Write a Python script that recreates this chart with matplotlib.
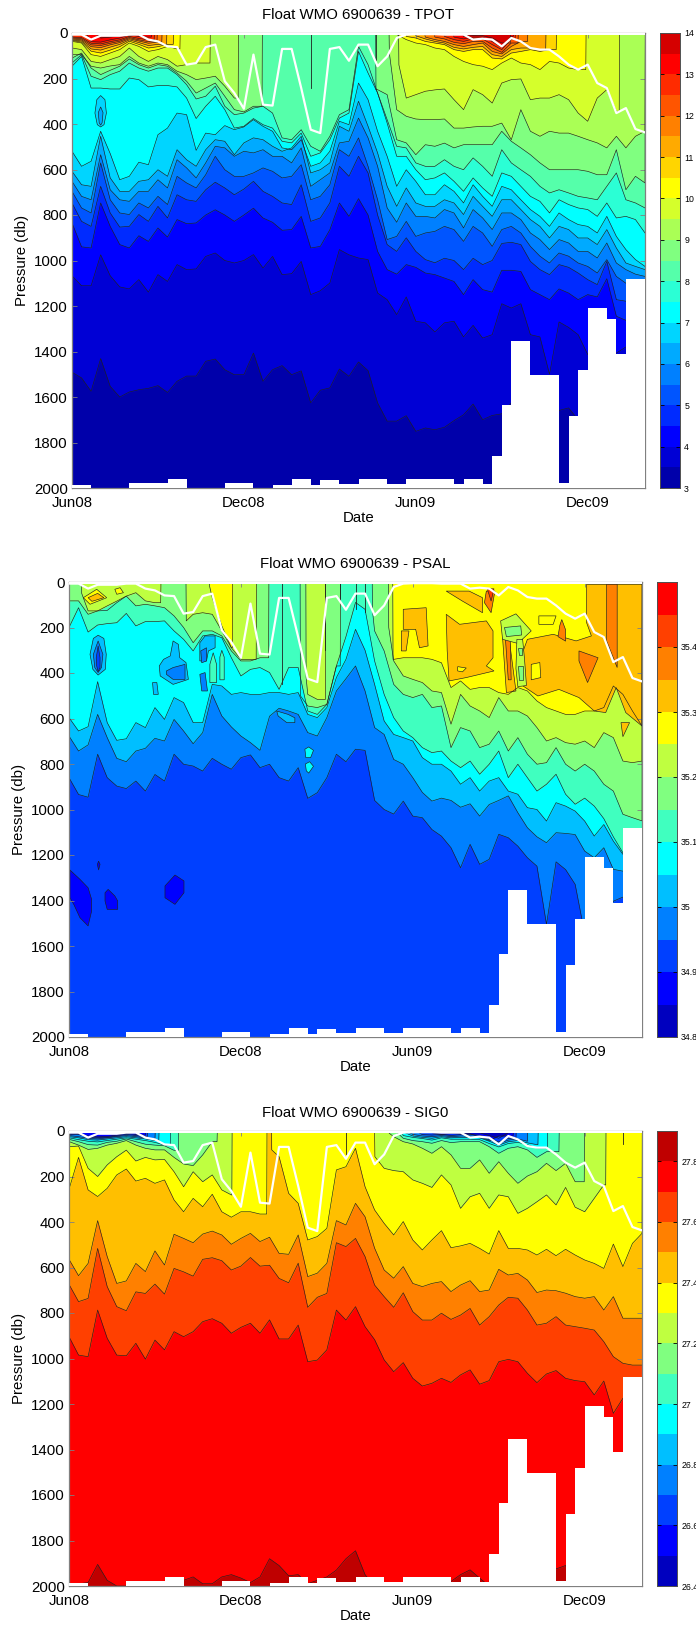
import math
import numpy as np
import matplotlib
matplotlib.use("Agg")
import matplotlib.pyplot as plt
from matplotlib.colors import ListedColormap

plt.rcParams['font.family'] = ['Liberation Sans', 'DejaVu Sans']

# profile number along x, one profile every 10 days
date_ticks = [0, 18, 36, 54]
date_labels = ['Jun08', 'Dec08', 'Jun09', 'Dec09']
press_ticks = list(range(0, 2001, 200))

# === mixed layer depth and bottom of each profile ===
mld = [7,7,29,12,12,12,7,7,29,37,59,62,139,132,62,51,212,264,333,95,315,319,70,70,242,425,440,70,62,122,
       51,51,146,103,22,7,5,5,5,7,7,7,29,25,29,59,22,37,66,73,73,103,139,161,139,220,242,352,330,422,437]
max_depth = [1985,1985,2000,2000,2000,2000,1980,1980,1980,1980,1962,1962,2000,2000,2000,2000,1978,1978,1978,2000,
             2000,1985,1985,1959,1959,1985,1966,1966,1981,1981,1959,1959,1959,1981,1981,1962,1962,1962,1962,1962,
             1984,1962,1962,1981,1861,1634,1355,1355,1505,1505,1505,1980,1682,1480,1209,1209,1257,1411,1080,1080]

# === TPOT isotherm depths (db) ===
# plain list: one value per profile
# list of tuples: (x where it leaves the surface, depths, x where it returns to the surface)
t135 = [(2.5,[5,22,18,12,3,8],7.5), (40.9,[5,15,12,12,22,44],45.9)]
t130 = [(1.5,[5,38,40,30,22,8,15,18],8.3), (39.9,[5,18,26,18,18,37,63,15],46.2)]
t125 = [(0,[18,20,45,48,38,30,15,24,30],8.6), (38.9,[5,15,29,37,26,26,51,73,26],46.4)]
t120 = [(0,[22,25,52,55,45,36,20,30,38],8.9), (37.9,[5,18,26,41,47,37,37,66,85,44],46.7)]
t115 = [(0,[26,30,60,64,52,42,25,35,45,40],9.4), (36.9,[5,18,29,37,51,59,51,44,81,92,59,37],47.7)]
t110 = [(0,[30,35,70,75,62,50,30,42,55,50],9.9), (35.9,[5,12,26,37,44,63,70,63,59,95,103,73,66,66,73],49.6)]
t105 = [(0,[33,40,80,88,75,60,36,50,66,60,50],10.6), (34.9,[5,15,22,37,44,51,73,81,73,73,110,114,88,81,73,81,73],50.7)]
t100 = [(0,[37,44,95,103,88,73,44,59,81,73,59,70],11.3),
        (33.9,[5,7,29,44,51,66,73,103,125,139,146,161,132,110,132,139,161,125,132,154,161],53.8)]
t95 = [(0,[66,73,125,132,117,103,66,103,125,103,117,146,139,132,132],14.45),
       (34.2,[140,286,271,256,250,246,293,337,249,271,308,220,205,202,293,286,286,271,293,352,388,286,249,344],57.3)]
t90 = [(0,[95,95,146,154,145,139,103,132,146,132,139,168,183,205,198,190,234,286],17.4),
       (33.2,[88,337,366,378,381,381,378,418,418,413,410,410,396,469,337,432,454,432,440,440,454,469,483,505,454,505,454,432],60)]
t85 = [(0,[110,88,154,183,164,146,114,139,154,139,146,176,212,264,242,220,278,337,347,322],19.9),
       (31.8,[249,249,271,469,483,535,491,498,484,505,491,491,491,491,432,476,505,535,571,601,601,601,601,608,623,623,513,689,630,659],60)]
t80 = [132,95,190,205,183,168,132,154,168,154,154,183,227,290,278,234,322,359,352,330,322,352,461,469,425,498,520,454,359,337,
       59,139,264,381,498,505,571,586,586,557,586,601,549,586,630,513,571,601,630,674,703,689,703,718,725,733,674,615,733,747,769]
t75 = [146,103,242,242,246,246,198,205,237,231,231,237,286,376,322,278,337,418,410,376,403,418,476,483,440,542,527,469,374,352,
       81,176,264,396,542,542,601,645,637,615,652,696,637,681,718,615,630,674,718,740,791,733,754,769,776,806,747,813,806,820,879]
t70 = [520,586,564,432,530,645,630,568,579,447,418,352,359,516,440,447,407,425,413,381,410,432,505,513,469,586,571,520,388,403,
       220,293,432,542,674,601,652,711,711,667,696,747,667,718,762,674,689,733,776,806,850,791,820,842,850,879,806,894,952,996,1026]
t65 = [608,667,674,454,637,696,696,652,645,601,630,513,557,586,513,469,476,535,483,461,469,498,520,505,454,615,601,571,410,432,
       300,410,527,674,762,681,747,762,762,733,747,798,718,762,806,733,733,776,820,850,901,850,864,901,901,930,864,945,1011,1026,1040]
t60 = [652,718,733,535,689,733,740,696,696,645,681,557,593,637,571,498,505,542,520,527,513,542,542,571,505,674,645,615,483,476,
       374,461,586,769,832,747,806,806,813,776,791,857,776,813,864,791,791,820,879,908,952,908,923,960,960,989,923,1011,1040,1060,1070]
t55 = [696,769,791,571,733,791,798,747,769,718,754,630,659,681,623,542,601,630,630,615,593,608,637,630,579,733,718,667,513,542,
       461,586,733,908,894,828,894,879,872,850,864,916,850,879,938,864,850,879,938,981,1011,967,981,1011,1026,1055,996,1070,1100,1110,1110]
t50 = [747,828,850,674,791,853,850,798,828,762,813,711,733,740,689,656,681,711,686,652,696,718,747,754,667,828,813,747,586,630,
       542,615,800,930,960,900,960,996,1010,990,1000,1040,990,1018,1000,925,920,930,1004,1040,1062,1018,1030,1055,1084,1106,1004,1172,1179,1180,1180]
t45 = [835,940,945,747,850,930,945,891,916,857,897,820,838,835,800,777,800,828,800,770,813,832,867,864,806,945,938,865,747,806,
       728,800,960,1040,1060,1018,1030,1055,1062,1077,1092,1150,1084,1128,1139,1043,1043,1048,1128,1150,1172,1125,1143,1172,1150,1160,1080,1245,1263,1250,1250]
t40 = [1067,1111,1111,975,1067,1116,1125,1084,1139,1062,1092,1018,1040,1037,982,967,1000,1011,1000,974,1033,982,1062,1058,1004,1150,1133,1099,952,975,
       989,996,1143,1172,1238,1160,1267,1274,1314,1274,1267,1336,1285,1341,1326,1190,1209,1190,1326,1336,1500,1270,1294,1326,1413,1420,1420,1407,1380,1400,1400]
t35 = [1491,1516,1575,1431,1553,1600,1578,1568,1562,1550,1580,1531,1508,1508,1443,1433,1480,1502,1502,1407,1531,1480,1462,1502,1485,1626,1570,1560,1477,1509,
       1446,1484,1626,1706,1706,1682,1751,1736,1744,1733,1704,1678,1631,1700,1681,1674,1626,1575,1650,1650,1650,1659,1648,1700,1700,1700,1700,1700,1700,1700,1700]
tpot_levels = [13.5,13,12.5,12,11.5,11,10.5,10,9.5,9,8.5,8,7.5,7,6.5,6,5.5,5,4.5,4,3.5]
tpot_lines = [t135,t130,t125,t120,t115,t110,t105,t100,t95,t90,t85,t80,t75,t70,t65,t60,t55,t50,t45,t40,t35]
# closed patches: (value band, x, depth)
tpot_patches = [
    (6.5, [2.4,2.6,3,3.45,3.6,3.35,3,2.65], [352,293,275,293,352,403,413,403]),
    (6, [2.75,3,3.25,3.15,3,2.85], [350,325,350,395,405,395]),
]
# short isolines seen near the surface: x, deepest point
tpot_slits = [(25, 240), (31.8, 120)]

# === PSAL isohaline depths (db) ===
s3525 = [(14.7,[20,69,193,289],17.1),
         (33.9,[340,340,333,333,333,340,355,464,435,472,464,464,486,494,464,479,523,552,567,582,582,567,567,552,457,494,567,633],60)]
s3520 = [(1.3,[50,127,127,125,91,62,47,83,91],9.6), (12.25,[171,142,135,142,215,289,340,340],19.6),
         (24.8,[420,494,516],26.85),
         (33.45,[200,347,413,428,442,479,486,625,494,545,567,596,508,567,567,589,640,699,684,706,713,699,728,662,684,787,794,787],60)]
s3515 = [(0,[83,83,142,127,105,84,62,105,98,105,113,149,200,267,215,215,237,303,347,347,333],20.9),
         (24.2,[500,545,552,538,369],28.4),
         (31.75,[127,215,303,450,494,508,494,552,545,728,640,655,728,713,655,743,684,757,801,794,728,801,831,801,831,889,919,1021,1036,1050],60)]
s3510 = [200,113,220,189,183,179,138,193,174,174,171,215,252,303,237,230,245,333,413,384,376,398,472,376,376,567,582,538,369,240,
         90,120,347,494,596,655,684,728,750,743,787,816,787,845,801,743,860,801,860,919,889,845,933,977,950,985,1040,1120,1190,1200,1200]
s3505 = [596,655,636,438,618,696,689,618,640,552,604,508,530,618,618,450,457,494,486,494,494,486,486,494,486,582,596,552,420,340,
         208,300,450,611,670,684,699,772,801,801,831,889,860,919,875,860,919,933,992,1000,1051,970,985,1007,1051,1117,1066,1139,1197,1200,1200]
s3500 = [677,743,716,582,684,775,790,743,731,687,699,604,655,711,662,494,589,637,677,706,740,590,555,567,582,662,677,596,479,425,
         369,479,640,670,780,801,860,925,963,950,960,990,975,1029,978,960,940,1014,1080,1120,1146,1102,1105,1110,1183,1212,1168,1263,1271,1270,1270]
s3495 = [860,934,946,757,860,897,908,875,919,846,875,757,801,809,831,775,801,823,772,760,816,801,860,875,816,951,926,860,757,790,
         735,740,960,1000,1020,963,1029,1036,1088,1117,1168,1256,1153,1241,1219,1109,1124,1161,1212,1249,1505,1230,1264,1329,1546,1500,1500,1403,1385,1385,1385]
psal_levels = [35.25,35.2,35.15,35.1,35.05,35,34.95]
psal_lines = [s3525,s3520,s3515,s3510,s3505,s3500,s3495]
psal_patches = [
    (35.0, [2.2,2.55,3.05,3.65,3.9,3.8,3.05,2.5], [318,248,234,248,318,384,409,384]),
    (34.95, [2.55,3.05,3.55,3.4,3.05,2.7], [318,259,318,376,398,376]),
    (34.9, [2.85,3.05,3.25,3.25,3.05,2.9], [333,281,333,376,394,369]),
    (35.0, [9.45,9.9,10.6,10.9,11.45,11.6,12.25,12.5,10.9,9.55], [369,340,325,259,274,333,354,428,450,413]),
    (34.95, [10.2,10.9,12.15,12.15,10.9,10.2], [391,376,362,428,428,406]),
    (35.0, [13.7,14.25,15.3,15.3,14.6,14.4,13.7], [267,237,237,289,303,347,347]),
    (34.95, [13.8,14.4,14.4,13.9], [303,289,347,355]),
    (34.95, [13.7,14.25,14.5,13.9], [406,398,479,479]),
    (35.1, [14.75,15.1,15.45,15.45,14.75], [362,311,362,442,442]),
    (35.1, [15.8,16,16.25,16.25,15.8], [330,300,330,430,430]),
    (35.0, [21.75,22.95,23.65,23.65,22.8,21.9], [567,582,597,618,618,589]),
    (35.05, [24.7,25.1,25.6,25.3,24.8], [735,725,740,772,772]),
    (35.05, [24.75,25.2,25.6,25.1,24.85], [800,790,810,840,830]),
    (35.0, [8.75,9.2,9.35,8.85], [442,442,494,494]),
    (34.85, [0.1,1.15,2,2.37,2.37,2,1.15,0.5,0.1], [1266,1307,1344,1395,1446,1512,1476,1417,1388]),
    (34.85, [3.77,4.1,4.8,5.1,5.1,4,3.77], [1366,1351,1380,1402,1439,1439,1402]),
    (34.85, [10.05,11.1,12.04,12.04,11.1,10.05], [1336,1288,1314,1366,1417,1388]),
    (34.85, [2.97,3.1,3.25,3.1], [1241,1227,1241,1266]),
    (35.25, [1.5,2.9,3.95,2.2], [69,32,69,98]),
    (35.3, [2,3,3.65,2.4], [69,50,69,85]),
    (35.25, [4.8,5.35,5.7,5], [32,25,47,54]),
    (35.3, [39.5,40.9,43.7,44.4,44.4,43.7,44.5,41.6,39.8,39.6], [142,186,171,215,333,369,391,420,435,303]),
    (35.3, [45.4,46.1,46.8,45.8], [245,252,479,486]),
    (35.3, [47.3,48,50.7,53.1,54.7,54.2,54.2,60,60,58.3,57.3,56.2,55,53.4,51.3,49.1,47.3],
           [333,252,230,259,237,179,10,10,633,574,464,574,567,508,472,501,450]),
    (35.3, [39.5,41.9,43.3,43.3,41.2], [40,40,69,135,84]),
    (35.3, [35,37.4,37.6,36.7,36.3,35], [120,113,281,289,208,208]),
    (35.3, [34.8,35.6,35.3,34.8], [215,215,303,303]),
    (35.3, [57.8,58.7,58], [618,618,680]),
    (35.35, [56.3,57.4,57.4,56.3], [10,10,376,260]),
    (35.35, [53.4,55.4,54.3,53.4], [303,333,442,347]),
    (35.35, [43.7,44.6,44.2,43.5], [40,40,135,91]),
    (35.4, [43.8,44.5,44.2], [30,30,84]),
    (35.35, [45.7,46.2,46.3,46], [250,250,430,430]),
    (35.35, [51.6,52,52,51.2,51.4], [165,210,260,240,190]),
    (35.25, [49.2,51,50.7,49.2], [149,149,186,186]),
    (35.25, [40.7,41.6,41.2,40.7], [372,378,395,391]),
    (35.25, [48.4,49.3,49.4,48.4], [362,354,420,430]),
    (35.2, [45.2,46.8,48.4,47,45.4], [171,140,215,270,252]),
    (35.15, [45.6,47.3,47.4,45.8], [200,193,233,240]),
    (35.2, [46.9,47.5,47.7,47.9,47,46.8], [252,252,340,455,460,380]),
    (35.15, [47,47.4,47.4,47.1], [290,290,320,320]),
    (35.15, [47,47.5,47.5,47.1], [370,370,430,430]),
]
psal_slits = [(22.3, 450), (26.85, 300), (28.4, 90), (30.1, 120), (31, 130)]

# === SIG0 isopycnal depths (db) ===
d265 = [(39.9,[3,5,6,8,8,20,32,8],46.3)]
d266 = [(0,[12,10,22,26,24,18,10,15,18],8), (37.9,[5,8,14,12,12,12,26,42,22],46.5)]
d267 = [(0,[15,15,28,30,28,22,15,20,25],8.2), (36.5,[5,16,18,15,20,16,16,18,32,48,32],46.8)]
d268 = [(0,[20,25,32,35,30,25,20,25,30,36],9), (35.5,[5,15,22,25,20,25,22,22,24,38,55,40,35,45],48)]
d269 = [(0,[25,30,38,40,35,30,25,30,35,42],9.4), (35,[5,22,28,32,25,30,28,28,30,45,62,47,42,52,60],49.1)]
d270 = [(0,[30,38,45,48,42,36,30,36,42,50,62],10.6), (34.8,[5,20,28,33,40,30,36,36,36,38,55,70,55,50,60,75],50.1)]
d271 = [(0,[37,47,60,62,50,45,35,47,58,62,65,85],11.45), (34.4,[10,32,42,47,54,42,51,47,47,47,69,98,76,69,83,116,91],51.3)]
d272 = [(0,[47,62,81,76,62,54,42,62,76,83,83,116,145,152,105,47],15.5),
        (33.5,[10,25,47,57,76,98,69,105,164,164,127,186,135,186,230,198,179,142,174,142,223],53.95)]
d273 = [(0,[69,66,164,200,149,113,84,132,116,127,125,179,245,179,223,193,259,281],17.05),
        (32,[113,164,174,179,215,230,248,193,237,340,289,274,340,281,289,362,340,311,281,325,248,335,355,296,237],56.2)]
d274 = [(0,[252,116,259,288,252,193,167,220,208,230,215,303,355,296,333,278,355,379,355,355,365],20.7),
        (21.2,[83,113,274,318,479,464,428,171,157,76,245,347,406,457,398,479,523,479,438,513,505,494,516,541,438,516,516,523,545,520,548,520,545,567,582,604,497,596,494,450],60)]
d275 = [564,636,582,394,552,670,659,582,618,527,589,454,472,491,453,440,457,498,472,450,486,467,538,542,457,640,625,582,394,413,
        318,377,515,611,647,596,670,684,670,662,706,677,658,706,699,608,633,626,655,710,699,702,713,728,735,728,787,728,823,823,823]
d276 = [674,750,736,516,684,772,790,707,714,673,717,604,619,638,564,557,570,611,594,556,594,590,648,667,581,775,731,714,491,508,
        472,552,677,728,775,711,794,831,831,801,828,809,780,853,816,765,731,735,787,853,845,816,853,860,867,875,926,992,1021,1029,1029]
d277 = [904,985,992,787,911,985,988,933,1003,919,962,882,904,882,838,825,845,889,863,845,889,830,914,914,853,1014,1007,962,787,831,
        772,860,917,1006,1058,1018,1087,1121,1109,1087,1105,1072,1050,1113,1097,1014,1004,1014,1065,1106,1068,1053,1087,1097,1102,1160,1099,1241,1175,1150,1150]
d278 = [1990,1990,1985,1905,1975,2000,2000,1985,1985,1990,1990,1985,1975,1960,1990,1990,1960,1950,1965,1985,
        1960,1880,1910,1955,1950,1990,1975,1960,1930,1880,1845,1950,2000,2000,2000,2000,2000,2000,2000,1985,
        1980,1950,1929,1965,2000,2000,2000,2000,2000,2000,2000,1925,1910,2000,2000,2000,2000,2000,2000,2000,2000]
sig_levels = [26.5,26.6,26.7,26.8,26.9,27,27.1,27.2,27.3,27.4,27.5,27.6,27.7,27.8]
sig_lines = [d265,d266,d267,d268,d269,d270,d271,d272,d273,d274,d275,d276,d277,d278]
sig_slits = [(29, 100), (58, 55)]


def jet_colors(m):
    # same table as the matlab/octave jet map
    n = math.ceil(m / 4)
    u = np.concatenate([np.arange(1, n + 1) / n, np.ones(n - 1), np.arange(n, 0, -1) / n])
    start = math.ceil(n / 2) - (1 if m % 4 == 1 else 0)
    g = start + np.arange(len(u))
    r = g + n
    b = g - n
    out = np.zeros((m, 3))
    for i in range(len(u)):
        if g[i] < m:
            out[g[i], 1] = u[i]
        if r[i] < m:
            out[r[i], 0] = u[i]
        if b[i] >= 0:
            out[b[i], 2] = u[i]
    return out


def line_xy(line):
    # plain lists have one value per profile, tuples are pieces touching the surface
    if not isinstance(line[0], tuple):
        return np.arange(61.0), np.array(line, float)
    xs, ds = [0.0], [0.0]
    for x_open, depths, x_end in line:
        xs += [x_open, x_open + 0.03]
        ds += [0, depths[0]]
        first = math.floor(x_open) + 1
        for k, d in enumerate(depths[1:]):
            xs.append(first + k)
            ds.append(d)
        xs += [x_end, x_end + 0.03]
        ds += [ds[-1], 0]
    xs.append(60.5)
    ds.append(0)
    return np.array(xs), np.array(ds, float)


def draw_panel(box, cbox, name, lines, levels, edges, colors, cticks, clabels, descending, patches=(), slits=()):
    ax = fig.add_axes([box[0] / W, 1 - box[3] / H, (box[1] - box[0]) / W, (box[3] - box[2]) / H])
    step = edges[1] - edges[0]

    def band(v):
        return colors[int(round((v - edges[0]) / step))]

    first = levels[0] if descending else levels[0] - step
    ax.fill_between([0, 60], 0, 2000, color=band(first), lw=0)
    for lev, line in zip(levels, lines):
        x, d = line_xy(line)
        c = band(lev - step) if descending else band(lev)
        ax.fill_between(x, d, 2100, color=c, lw=0)
        ax.plot(x, d, color='#202020', lw=0.45)
    for lev, x, d in patches:
        ax.fill(x, d, facecolor=band(lev), edgecolor='#202020', lw=0.45)
    for x, d in slits:
        ax.plot([x, x], [0, d], color='#202020', lw=0.6)

    # no data in the top few db nor below the last level of each profile
    ax.fill_between([0, 60], 0, 9, color='w', lw=0, zorder=3)
    ax.bar(np.arange(60), 2000 - np.array(max_depth), bottom=max_depth, width=1, align='edge',
           color='w', lw=0, zorder=3)
    ax.plot(np.arange(61), mld, color='w', lw=1.6, zorder=4)

    ax.set_xlim(0, 60)
    ax.set_ylim(2000, 0)
    ax.set_xticks(date_ticks)
    ax.set_xticklabels(date_labels)
    ax.set_yticks(press_ticks)
    ax.tick_params(direction='in', length=3.5, width=0.6, color='#808080', top=True, right=True,
                   labelsize=10.8, pad=3)
    ax.tick_params(axis='x', pad=5.5)
    for s in ax.spines.values():
        s.set_color('#808080')
        s.set_linewidth(0.9)
    ax.set_xlabel('Date', fontsize=10.8, labelpad=1)
    ax.set_ylabel('Pressure (db)', fontsize=10.8, labelpad=3.5)
    ax.set_title(name, fontsize=10.8, pad=10)

    cax = fig.add_axes([cbox[0] / W, 1 - box[3] / H, (cbox[1] - cbox[0]) / W, (box[3] - box[2]) / H])
    cmap = ListedColormap(colors)
    cax.pcolormesh([0, 1], edges, np.arange(len(colors)).reshape(-1, 1), cmap=cmap)
    cax.set_xticks([])
    cax.set_yticks(cticks)
    cax.set_yticklabels(clabels)
    cax.yaxis.tick_right()
    cax.tick_params(direction='in', left=True, right=True, length=3, width=0.6, labelsize=6.3, pad=3)
    for s in cax.spines.values():
        s.set_color('#505050')
        s.set_linewidth(0.7)
    return ax


W, H = 696, 1625
fig = plt.figure(figsize=(W / 100, H / 100), dpi=100)

draw_panel((72, 645, 33, 488), (660, 680), 'Float WMO 6900639 - TPOT', tpot_lines, tpot_levels,
           np.arange(3, 14.01, 0.5), jet_colors(24)[:22], list(range(3, 15)),
           [str(v) for v in range(3, 15)], True, tpot_patches, tpot_slits)

draw_panel((69, 642, 582, 1037), (657, 677), 'Float WMO 6900639 - PSAL', psal_lines, psal_levels,
           34.8 + 0.05 * np.arange(15), jet_colors(16)[:14], [34.8, 34.9, 35, 35.1, 35.2, 35.3, 35.4],
           ['34.8', '34.9', '35', '35.1', '35.2', '35.3', '35.4'], True, psal_patches, psal_slits)

draw_panel((69, 642, 1131, 1586), (657, 677), 'Float WMO 6900639 - SIG0', sig_lines, sig_levels,
           26.4 + 0.1 * np.arange(16), jet_colors(16)[:15], [26.4, 26.6, 26.8, 27, 27.2, 27.4, 27.6, 27.8],
           ['26.4', '26.6', '26.8', '27', '27.2', '27.4', '27.6', '27.8'], False, (), sig_slits)

plt.savefig('out.png', dpi=100)
plt.close()
